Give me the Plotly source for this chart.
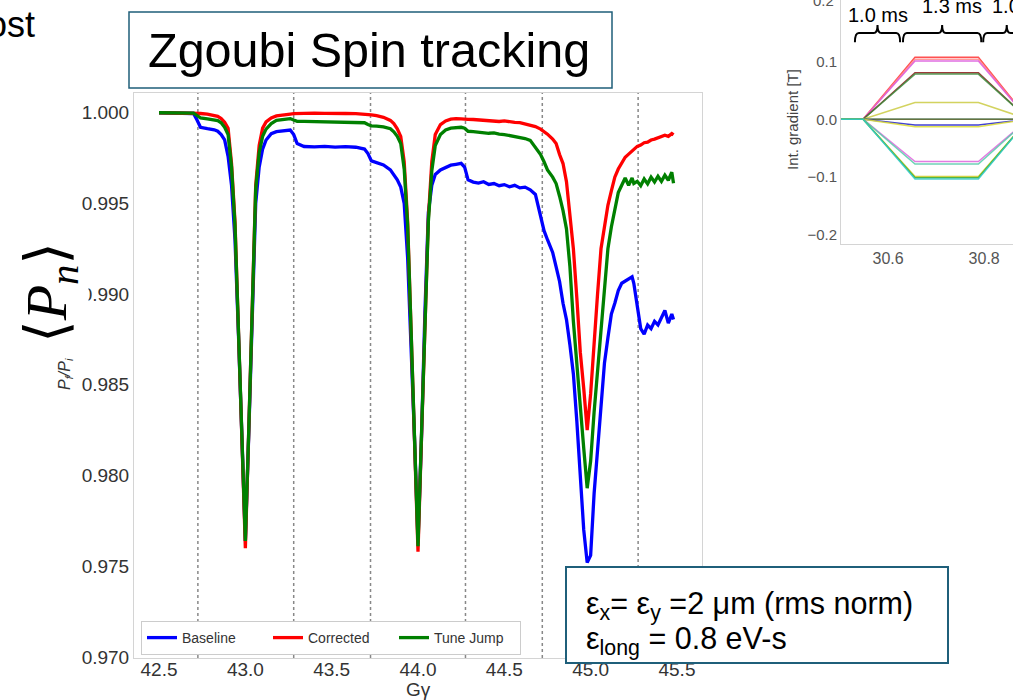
import plotly.graph_objects as go

W, H = 1013, 700


def px(x):
    return x / W


def py(y):
    return 1 - y / H


# ---------------- main chart data ----------------
g_gamma = [
    42.50, 42.55, 42.60, 42.65, 42.70, 42.72, 42.74, 42.78, 42.82, 42.84,
    42.86, 42.88, 42.90, 42.92, 42.94, 42.96, 42.98, 43.00, 43.02, 43.04,
    43.06, 43.08, 43.10, 43.12, 43.15, 43.18, 43.22, 43.26, 43.28, 43.30,
    43.34, 43.40, 43.46, 43.52, 43.58, 43.64, 43.69, 43.71, 43.73, 43.76,
    43.80, 43.84, 43.86, 43.88, 43.90, 43.92, 43.94, 43.96, 43.98, 44.00,
    44.02, 44.04, 44.06, 44.08, 44.10, 44.13, 44.16, 44.19, 44.22, 44.25,
    44.27, 44.29, 44.32, 44.35, 44.38, 44.41, 44.44, 44.47, 44.50, 44.53,
    44.56, 44.59, 44.62, 44.65, 44.68, 44.71, 44.73, 44.75, 44.78, 44.80,
    44.82, 44.84, 44.86, 44.88, 44.90, 44.92, 44.94, 44.96, 44.98, 45.00,
    45.02, 45.04, 45.06, 45.08, 45.10, 45.12, 45.14, 45.16, 45.18, 45.20,
    45.22, 45.24, 45.25, 45.27, 45.29, 45.31, 45.33, 45.35, 45.37, 45.39,
    45.41, 45.43, 45.45, 45.47, 45.48,
]

baseline = [
    1.00000, 1.00000, 1.00000, 1.00000, 0.99996, 0.99960, 0.99920, 0.99912, 0.99906, 0.99898,
    0.99880, 0.99850, 0.99760, 0.99600, 0.99300, 0.98780, 0.98200, 0.97640, 0.98240, 0.98950,
    0.99500, 0.99700, 0.99800, 0.99850, 0.99885, 0.99896, 0.99902, 0.99905, 0.99880, 0.99830,
    0.99814, 0.99812, 0.99815, 0.99811, 0.99813, 0.99810, 0.99800, 0.99775, 0.99735, 0.99725,
    0.99712, 0.99685, 0.99660, 0.99630, 0.99590, 0.99500, 0.99200, 0.98750, 0.98200, 0.97640,
    0.98200, 0.98900, 0.99450, 0.99600, 0.99660, 0.99685, 0.99700, 0.99711, 0.99716, 0.99721,
    0.99700, 0.99630, 0.99618, 0.99612, 0.99620, 0.99605, 0.99610, 0.99598, 0.99604, 0.99592,
    0.99600, 0.99586, 0.99590, 0.99575, 0.99550, 0.99430, 0.99350, 0.99300, 0.99230, 0.99150,
    0.99070, 0.98950, 0.98860, 0.98720, 0.98560, 0.98300, 0.98000, 0.97700, 0.97520, 0.97560,
    0.97900, 0.98150, 0.98420, 0.98620, 0.98760, 0.98890, 0.98950, 0.99020, 0.99060, 0.99070,
    0.99085, 0.99095, 0.99060, 0.98940, 0.98810, 0.98780, 0.98830, 0.98810, 0.98850, 0.98830,
    0.98870, 0.98910, 0.98840, 0.98890, 0.98860,
]

corrected = [
    1.00000, 1.00000, 1.00000, 0.99999, 0.99998, 0.99997, 0.99996, 0.99993, 0.99987, 0.99980,
    0.99968, 0.99948, 0.99915, 0.99720, 0.99400, 0.98820, 0.98200, 0.97600, 0.98260, 0.98980,
    0.99600, 0.99820, 0.99915, 0.99950, 0.99972, 0.99983, 0.99990, 0.99993, 0.99995, 0.99996,
    0.99997, 0.99998, 0.99997, 0.99998, 0.99996, 0.99995, 0.99993, 0.99991, 0.99989, 0.99984,
    0.99975, 0.99958, 0.99940, 0.99912, 0.99870, 0.99730, 0.99400, 0.98800, 0.98200, 0.97580,
    0.98200, 0.98800, 0.99420, 0.99730, 0.99880, 0.99935, 0.99955, 0.99965, 0.99968, 0.99966,
    0.99967, 0.99964, 0.99963, 0.99961, 0.99960, 0.99958, 0.99957, 0.99952, 0.99955, 0.99949,
    0.99947, 0.99946, 0.99940, 0.99934, 0.99924, 0.99910, 0.99896, 0.99882, 0.99855, 0.99830,
    0.99770, 0.99720, 0.99620, 0.99450, 0.99250, 0.98980, 0.98680, 0.98480, 0.98250, 0.98450,
    0.98750, 0.99000, 0.99250, 0.99380, 0.99490, 0.99570, 0.99645, 0.99690, 0.99725, 0.99755,
    0.99772, 0.99790, 0.99795, 0.99815, 0.99822, 0.99835, 0.99838, 0.99850, 0.99855, 0.99862,
    0.99866, 0.99876, 0.99870, 0.99885, 0.99878,
]

tune_jump = [
    1.00000, 1.00000, 1.00000, 1.00000, 0.99998, 0.99985, 0.99972, 0.99966, 0.99962, 0.99957,
    0.99945, 0.99920, 0.99880, 0.99700, 0.99380, 0.98800, 0.98220, 0.97640, 0.98260, 0.98980,
    0.99580, 0.99780, 0.99870, 0.99910, 0.99940, 0.99958, 0.99965, 0.99968, 0.99960, 0.99953,
    0.99953, 0.99952, 0.99950, 0.99951, 0.99948, 0.99947, 0.99945, 0.99935, 0.99928, 0.99926,
    0.99922, 0.99912, 0.99895, 0.99870, 0.99830, 0.99690, 0.99380, 0.98800, 0.98220, 0.97610,
    0.98220, 0.98800, 0.99400, 0.99680, 0.99820, 0.99880, 0.99905, 0.99915, 0.99918, 0.99920,
    0.99915, 0.99898, 0.99896, 0.99893, 0.99890, 0.99887, 0.99889, 0.99882, 0.99880, 0.99874,
    0.99872, 0.99866, 0.99858, 0.99848, 0.99805, 0.99770, 0.99730, 0.99685, 0.99645, 0.99610,
    0.99540, 0.99460, 0.99360, 0.99150, 0.98850, 0.98600, 0.98350, 0.98150, 0.97930, 0.98080,
    0.98350, 0.98580, 0.98820, 0.99050, 0.99250, 0.99370, 0.99470, 0.99560, 0.99600, 0.99640,
    0.99600, 0.99640, 0.99610, 0.99622, 0.99598, 0.99635, 0.99608, 0.99645, 0.99618, 0.99650,
    0.99622, 0.99656, 0.99628, 0.99672, 0.99612,
]

series_names = ["Baseline", "Corrected", "Tune Jump"]
series_colors = ["#0000ff", "#ff0000", "#008000"]

gamma_ticks = [42.5, 43.0, 43.5, 44.0, 44.5, 45.0, 45.5]
p_ticks = [0.970, 0.975, 0.980, 0.985, 0.990, 0.995, 1.000]
resonance_marks = [42.725, 43.28, 43.725, 44.275, 44.72, 45.275]

# ---------------- inset (quad ramp) data ----------------
inset_time = [30.45, 30.548, 30.656, 30.788, 30.892, 30.95]
inset_plateaus = [0.107, 0.1035, 0.1007, 0.0805, 0.078, 0.029, 0.0, 0.0,
                  -0.0098, -0.0127, -0.073, -0.0774, -0.099, -0.101, -0.103]
inset_colors = ["#ff3333", "#ff8a8a", "#dd55dd", "#8b1a1a", "#3c8c3c", "#cccc44",
                "#2e8b8b", "#6b6b2f", "#2222cc", "#dddd33", "#dd66dd", "#55ccaa",
                "#cccc22", "#33aa33", "#33cccc"]
inset_xticks = [30.6, 30.8]
inset_yticks = [-0.2, -0.1, 0.0, 0.1, 0.2]
brace_spans = [(30.531, 30.625), (30.631, 30.794), (30.798, 30.896)]
brace_labels = ["1.0 ms", "1.3 ms", "1.0 ms"]
# label positions in screen pixels (x / centre y / anchor)
brace_label_px = [(878, 15, "center"), (952, 6, "center"), (990, 6, "left")]

fig = go.Figure()

for name, vals, col in zip(series_names, [baseline, corrected, tune_jump], series_colors):
    fig.add_trace(go.Scatter(x=g_gamma, y=vals, mode="lines", name=name,
                             line=dict(color=col, width=3.3),
                             xaxis="x", yaxis="y"))

for p, col in zip(inset_plateaus, inset_colors):
    fig.add_trace(go.Scatter(x=inset_time, y=[0, 0, p, p, 0, 0], mode="lines",
                             line=dict(color=col, width=1.5), opacity=0.85,
                             xaxis="x2", yaxis="y2", showlegend=False))

FONT = "Liberation Sans, Arial, sans-serif"
common_axis = dict(showgrid=False, zeroline=False, showline=True, linecolor="#d4d4d4",
                   linewidth=1, ticks="", automargin=False)

fig.update_layout(
    width=W, height=H, margin=dict(l=0, r=0, t=0, b=0, autoexpand=False),
    paper_bgcolor="white", plot_bgcolor="white",
    font=dict(family=FONT, color="#333333"),
    hovermode=False,
    xaxis=dict(domain=[px(134), px(702)], range=[42.355, 45.645], anchor="y",
               tickvals=gamma_ticks, ticktext=[f"{v:.1f}" for v in gamma_ticks],
               mirror=True, tickfont=dict(size=19, color="#333333"),
               ticklabelstandoff=-6, **common_axis),
    yaxis=dict(domain=[py(658), py(93)], range=[0.96994, 1.00109], anchor="x",
               tickvals=p_ticks, ticktext=[f"{v:.3f}" for v in p_ticks],
               mirror=True, tickfont=dict(size=19, color="#333333"), **common_axis),
    xaxis2=dict(domain=[px(841), 1.0], range=[30.502, 30.860], anchor="y2",
                tickvals=inset_xticks, ticktext=[f"{v:.1f}" for v in inset_xticks],
                mirror=False, tickfont=dict(size=16, color="#555555"), **common_axis),
    yaxis2=dict(domain=[py(244), 1.0], range=[-0.2154, 0.206], anchor="x2",
                tickvals=inset_yticks,
                ticktext=[f"{v:.1f}".replace("-", "\u2212") for v in inset_yticks],
                mirror=False, tickfont=dict(size=15, color="#555555"), **common_axis),
    showlegend=True,
    legend=dict(orientation="h", x=px(141), y=py(655), xanchor="left", yanchor="bottom",
                bgcolor="white", bordercolor="#cccccc", borderwidth=1,
                font=dict(size=14, color="#333333"),
                entrywidth=81, entrywidthmode="pixels", tracegroupgap=0),
)

# dotted vertical markers
for g in resonance_marks:
    fig.add_shape(type="line", xref="x", yref="y domain", x0=g, x1=g, y0=0, y1=1,
                  line=dict(color="#888888", width=1.5, dash="dot"), layer="below")

# braces above inset
yh, ye, yt = 0.149, 0.133, 0.163
dx = 0.008
for (x0, x1) in brace_spans:
    xm = (x0 + x1) / 2
    path = (f"M {x0},{ye} Q {x0},{yh} {x0+dx},{yh} L {xm-dx},{yh} "
            f"Q {xm},{yh} {xm},{yt} Q {xm},{yh} {xm+dx},{yh} "
            f"L {x1-dx},{yh} Q {x1},{yh} {x1},{ye}")
    fig.add_shape(type="path", xref="x2", yref="y2", path=path,
                  line=dict(color="black", width=2))


def note(x, y, text, size, color="black", family=FONT, xanchor="center", angle=0, **kw):
    fig.add_annotation(x=px(x), y=py(y), xref="paper", yref="paper", text=text,
                       showarrow=False, xanchor=xanchor, yanchor="middle",
                       textangle=angle, font=dict(size=size, color=color, family=family), **kw)


for lab, (lx, ly, anc) in zip(brace_labels, brace_label_px):
    note(lx, ly, lab, 20, xanchor=anc)

# partially visible top tick of the inset
note(836, 0, "0.2", 15, color="#555555", xanchor="right")

# inset y title
note(792, 120, "Int. gradient [T]", 15, color="#444444", angle=-90)

# title box
BOX = "#1f5f7a"
fig.add_shape(type="rect", xref="paper", yref="paper",
              x0=px(129), x1=px(612), y0=py(88), y1=py(12),
              line=dict(color=BOX, width=1.5), fillcolor="white", layer="above")
note(369, 50, "Zgoubi Spin tracking", 48.5)

# emittance box
fig.add_shape(type="rect", xref="paper", yref="paper",
              x0=px(566), x1=px(948), y0=py(663), y1=py(567),
              line=dict(color=BOX, width=2), fillcolor="white", layer="above")
note(584, 605, "\u03b5<sub>x</sub>= \u03b5<sub>y</sub> =2 \u03bcm (rms norm)", 30.5, xanchor="left")
note(584, 640, "\u03b5<sub>long</sub> = 0.8 eV-s", 30.5, xanchor="left")

# axis titles
note(418, 689, "G\u03b3", 19, color="#333333")
note(65, 374, "<i>P<sub>f</sub>/P<sub>i</sub></i>", 16, color="#333333", angle=-90)
note(50, 293, "\u27e8<i>P</i><sub><i>n</i></sub>\u27e9", 58,
     family="Liberation Serif, DejaVu Serif, serif", angle=-90, bgcolor="white")

# slide fragment top-left
note(37, 25, "ost", 36, xanchor="right")

fig.write_html("out.html", config={"displayModeBar": False},
               post_script="document.body.style.margin='0';document.body.style.overflow='hidden';")
